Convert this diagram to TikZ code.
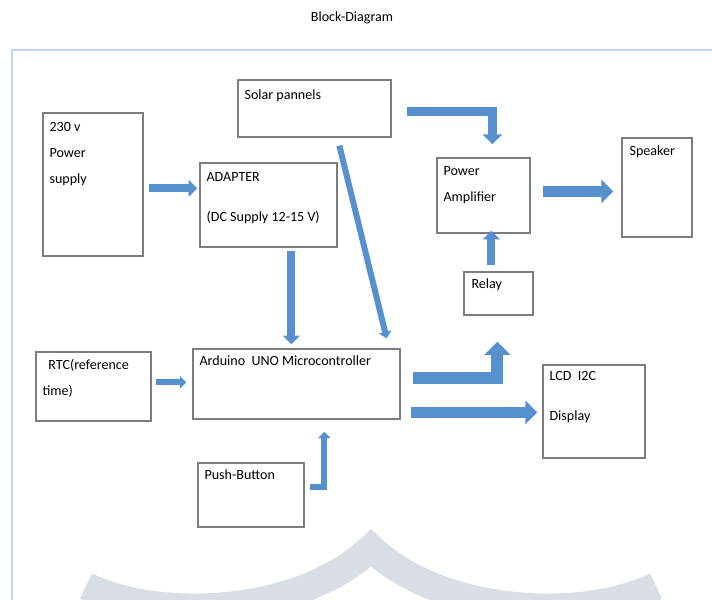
\documentclass[tikz,border=0pt]{standalone}
\usepackage{fontspec}
\setmainfont{Carlito}
\usetikzlibrary{arrows.meta,fit}
\definecolor{arrowblue}{RGB}{86,144,207}
\definecolor{boxgray}{RGB}{125,125,125}
\definecolor{frameblue}{RGB}{189,215,238}
\definecolor{markgray}{RGB}{216,222,228}
\tikzset{
  blk/.style={draw=boxgray, line width=1.1pt, inner sep=0pt},
  lbl/.style={anchor=north west, inner sep=0pt, align=left, font=\fontsize{12}{22}\selectfont},
  fat/.style={draw=arrowblue, line width=#1*0.85pt, line join=miter, -{Triangle[length=0pt 1.1, width=0pt 2.1]}}
}

\begin{document}
\begin{tikzpicture}[x=0.03cm, y=-0.03cm]
\useasboundingbox (0,0) rectangle (712,600);

% watermark
\begin{scope}
\clip (0,0) rectangle (712,600);
\draw[markgray, line width=28*0.85pt, line join=miter] (86,586) .. controls (160,622) and (300,615) .. (371,548)
  .. controls (442,615) and (582,622) .. (656,586);
\end{scope}

% frame
\draw[frameblue, line width=1.5pt] (12,600) -- (12,50) -- (712,50);

\node[font=\fontsize{12}{14}\selectfont] (title) at (352,18) {Block-Diagram};

% blocks
\node[blk, fit={(238,80) (391,137)}] (solar) {};
\node[blk, fit={(43,113) (143,256)}] (psu) {};
\node[blk, fit={(200,163) (337,247)}] (adapter) {};
\node[blk, fit={(437,158) (530,233)}] (amp) {};
\node[blk, fit={(622,138) (692,237)}] (speaker) {};
\node[blk, fit={(464,272) (533,315)}] (relay) {};
\node[blk, fit={(36,352) (151,421)}] (rtc) {};
\node[blk, fit={(193,349) (400,419)}] (arduino) {};
\node[blk, fit={(198,463) (304,527)}] (push) {};
\node[blk, fit={(543,365) (645,458)}] (lcd) {};

% labels
\node[lbl] (solartxt) at ([shift={(7,10)}]solar.north west) {Solar pannels};
\node[lbl] (psutxt) at ([shift={(7,10)}]psu.north west) {230 v\\Power\\supply};
\node[lbl] (adaptertxt) at ([shift={(7,10)}]adapter.north west) {ADAPTER\\[12pt](DC Supply 12-15 V)};
\node[lbl] (amptxt) at ([shift={(7,9)}]amp.north west) {Power\\Amplifier};
\node[lbl] (speakertxt) at ([shift={(8,8)}]speaker.north west) {Speaker};
\node[lbl] (relaytxt) at ([shift={(8,7)}]relay.north west) {Relay};
\node[lbl] (rtctxt) at ([shift={(7,8)}]rtc.north west) {\hspace{5pt}RTC(reference\\time)};
\node[lbl] (arduinotxt) at ([shift={(7,7)}]arduino.north west) {Arduino\ \ UNO Microcontroller};
\node[lbl] (pushtxt) at ([shift={(7,7)}]push.north west) {Push-Button};
\node[lbl] (lcdtxt) at ([shift={(7,7)}]lcd.north west) {LCD\ \ I2C\\[12pt]Display};

% arrows
\draw[fat=8] ([shift={(5,76)}]psu.north east) -- ([shift={(-2,26)}]adapter.north west);
\draw[fat=8] ([shift={(92,3)}]adapter.south west) -- ([shift={(99,-4)}]arduino.north west);
\draw[fat=6] ([shift={(102,8)}]solar.south west) -- ([shift={(-14,-10)}]arduino.north east);
\draw[fat=9] ([shift={(15,32)}]solar.north east) -| ([shift={(56,-13)}]amp.north west);
\draw[fat=8] ([shift={(28,-6)}]relay.north west) -- ([shift={(55,-3)}]amp.south west);
\draw[fat=11] ([shift={(12,34)}]amp.north east) -- ([shift={(-8,54)}]speaker.north west);
\draw[fat=12] ([shift={(12,30)}]arduino.north east) -| ([shift={(34,26)}]relay.south west);
\draw[fat=11] ([shift={(10,64)}]arduino.north east) -- ([shift={(-5,48)}]lcd.north west);
\draw[fat=6] ([shift={(4,31)}]rtc.north east) -- ([shift={(-6,34)}]arduino.north west);
\draw[fat=6] ([shift={(5,25)}]push.north east) -| ([shift={(132,12)}]arduino.south west);
\end{tikzpicture}
\end{document}
